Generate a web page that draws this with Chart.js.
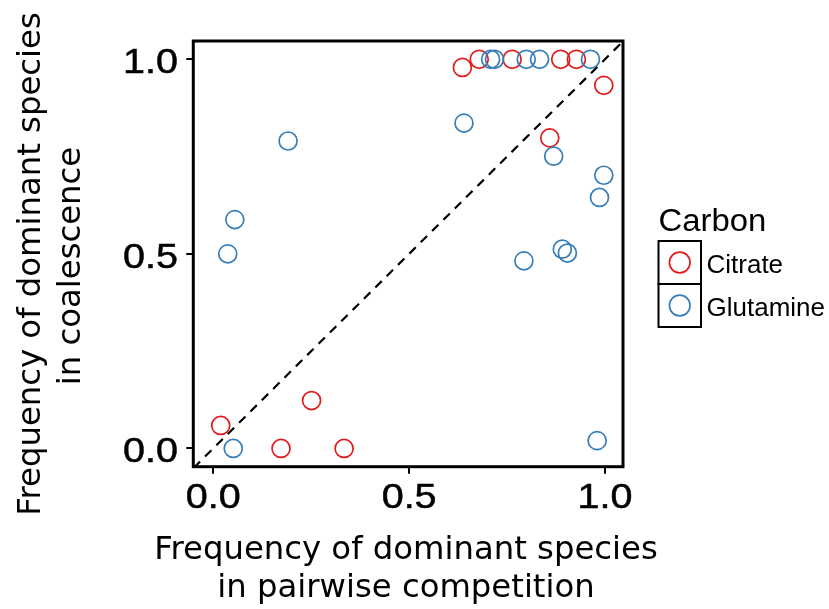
<!DOCTYPE html>
<html>
<head>
<meta charset="utf-8">
<script src="https://cdn.jsdelivr.net/npm/chart.js@4.4.1/dist/chart.umd.min.js"></script>
<style>
  html, body { margin: 0; padding: 0; background: #ffffff; }
  #wrap { width: 829px; height: 609px; }
</style>
</head>
<body>
<div id="wrap"><canvas id="c" width="829" height="609"></canvas></div>
<script>
// ---- data ----
const categories = ['Citrate', 'Glutamine'];
const citrateX   = [0.636, 0.679, 0.763, 0.887, 0.927, 0.997, 0.859, 0.019, 0.251, 0.173, 0.334];
const citrateY   = [0.979, 1.000, 1.000, 1.000, 1.000, 0.933, 0.798, 0.059, 0.123, 0.000, 0.000];
const glutamineX = [0.708, 0.718, 0.799, 0.833, 0.963, 0.640, 0.191, 0.869, 0.997, 0.986, 0.055, 0.037, 0.793, 0.891, 0.904, 0.051, 0.980];
const glutamineY = [1.000, 1.000, 1.000, 1.000, 1.000, 0.836, 0.790, 0.751, 0.702, 0.645, 0.588, 0.500, 0.482, 0.512, 0.502, 0.000, 0.020];
const xTickValues = [0, 0.5, 1.0];
const yTickValues = [0, 0.5, 1.0];
const identityLine = [-0.05, 1.05];   // y = x reference line, end values
const xAxisTitle = ['Frequency of dominant species', 'in pairwise competition'];
const yAxisTitle = ['Frequency of dominant species', 'in coalescence'];
const legendTitle = 'Carbon';

const COLORS = ['#E41A1C', '#377EB8'];
const toPts = (xs, ys) => xs.map((x, i) => ({ x: x, y: ys[i] }));

const X_MIN = -0.051, X_MAX = 1.046, Y_MIN = -0.047, Y_MAX = 1.047;
const TICK_FONT = '35px "Liberation Sans"';
const TICK_STRETCH = 1.13;

const framePlugin = {
  id: 'frame',
  afterDatasetsDraw(chart) {
    const { ctx, chartArea: a } = chart;
    ctx.save();
    ctx.strokeStyle = '#000';
    ctx.lineWidth = 3;
    ctx.strokeRect(a.left, a.top, a.right - a.left, a.bottom - a.top);
    ctx.restore();
  },
  afterDraw(chart) {
    const { ctx } = chart;
    ctx.save();
    ctx.fillStyle = '#000';
    ctx.strokeStyle = '#000';

    // tick labels, placed with the library's scales
    ctx.font = TICK_FONT;
    ctx.textBaseline = 'alphabetic';
    ctx.lineWidth = 0.5;
    const xs = chart.scales.x, ys = chart.scales.y;
    xs.ticks.forEach(t => {
      const px = xs.getPixelForValue(t.value);
      ctx.save();
      ctx.translate(px, 507.8);
      ctx.scale(TICK_STRETCH, 1);
      ctx.textAlign = 'center';
      ctx.fillText(t.label, 0, 0);
      ctx.strokeText(t.label, 0, 0);
      ctx.restore();
    });
    ys.ticks.forEach(t => {
      const py = ys.getPixelForValue(t.value);
      ctx.save();
      ctx.translate(177.9, py + 13.8);
      ctx.scale(TICK_STRETCH, 1);
      ctx.textAlign = 'right';
      ctx.fillText(t.label, 0, 0);
      ctx.strokeText(t.label, 0, 0);
      ctx.restore();
    });

    // axis titles
    ctx.font = '32.3px "DejaVu Sans"';
    ctx.textAlign = 'center';
    ctx.textBaseline = 'alphabetic';
    ctx.fillText(xAxisTitle[0], 406, 558.5);
    ctx.fillText(xAxisTitle[1], 406, 596.5);
    ctx.save();
    ctx.translate(40, 264);
    ctx.rotate(-Math.PI / 2);
    ctx.fillText(yAxisTitle[0], 0, 0);
    ctx.restore();
    ctx.save();
    ctx.translate(79.5, 266);
    ctx.rotate(-Math.PI / 2);
    ctx.fillText(yAxisTitle[1], 0, 0);
    ctx.restore();

    // legend
    ctx.textAlign = 'left';
    ctx.save();
    ctx.translate(658.5, 230.7);
    ctx.scale(1.06, 1);
    ctx.font = '31px "Liberation Sans"';
    ctx.fillText(legendTitle, 0, 0);
    ctx.restore();
    const keyX = 658.5, keyW = 42.5, keyH = 43;
    let keyY = 241;
    const ds = chart.data.datasets.filter(d => d.type !== 'line');
    ctx.font = '26px "Liberation Sans"';
    ds.forEach((d, i) => {
      const top = keyY + i * keyH;
      ctx.strokeStyle = '#000';
      ctx.lineWidth = 2;
      ctx.strokeRect(keyX, top, keyW, keyH);
      ctx.beginPath();
      ctx.strokeStyle = d.borderColor;
      ctx.lineWidth = 1.7;
      ctx.arc(keyX + keyW / 2, top + keyH / 2, 10.3, 0, Math.PI * 2);
      ctx.stroke();
      ctx.fillStyle = '#000';
      ctx.fillText(d.label, 706.5, top + 31.5);
    });
    ctx.restore();
  }
};

new Chart(document.getElementById('c'), {
  data: {
    datasets: [
      {
        type: 'line',
        label: 'identity',
        data: identityLine.map(v => ({ x: v, y: v })),
        borderColor: '#000',
        borderWidth: 2.2,
        borderDash: [9, 7],
        pointRadius: 0,
        fill: false,
        order: 3
      },
      {
        type: 'scatter',
        label: categories[0],
        data: toPts(citrateX, citrateY),
        borderColor: COLORS[0],
        backgroundColor: 'rgba(0,0,0,0)',
        pointRadius: 9,
        pointBorderWidth: 1.7,
        pointHoverRadius: 9,
        order: 2
      },
      {
        type: 'scatter',
        label: categories[1],
        data: toPts(glutamineX, glutamineY),
        borderColor: COLORS[1],
        backgroundColor: 'rgba(0,0,0,0)',
        pointRadius: 9,
        pointBorderWidth: 1.7,
        pointHoverRadius: 9,
        order: 1
      }
    ]
  },
  options: {
    responsive: false,
    animation: false,
    events: [],
    layout: { padding: { top: 41, right: 206, left: 0, bottom: 0 } },
    plugins: { legend: { display: false }, tooltip: { enabled: false } },
    scales: {
      x: {
        type: 'linear',
        min: X_MIN, max: X_MAX,
        afterFit(scale) { scale.height = 142.3; },
        afterBuildTicks(scale) { scale.ticks = xTickValues.map(v => ({ value: v })); },
        grid: { display: true, drawOnChartArea: false, drawTicks: true, tickLength: 7, color: '#000', tickColor: '#000', lineWidth: 2, tickWidth: 2 },
        border: { display: false },
        ticks: {
          display: false,
          callback: v => Number(v).toFixed(1)
        }
      },
      y: {
        type: 'linear',
        min: Y_MIN, max: Y_MAX,
        afterFit(scale) { scale.width = 193.3; },
        afterBuildTicks(scale) { scale.ticks = yTickValues.map(v => ({ value: v })); },
        grid: { display: true, drawOnChartArea: false, drawTicks: true, tickLength: 7, color: '#000', tickColor: '#000', lineWidth: 2, tickWidth: 2 },
        border: { display: false },
        ticks: {
          display: false,
          callback: v => Number(v).toFixed(1)
        }
      }
    }
  },
  plugins: [framePlugin]
});
</script>
</body>
</html>
